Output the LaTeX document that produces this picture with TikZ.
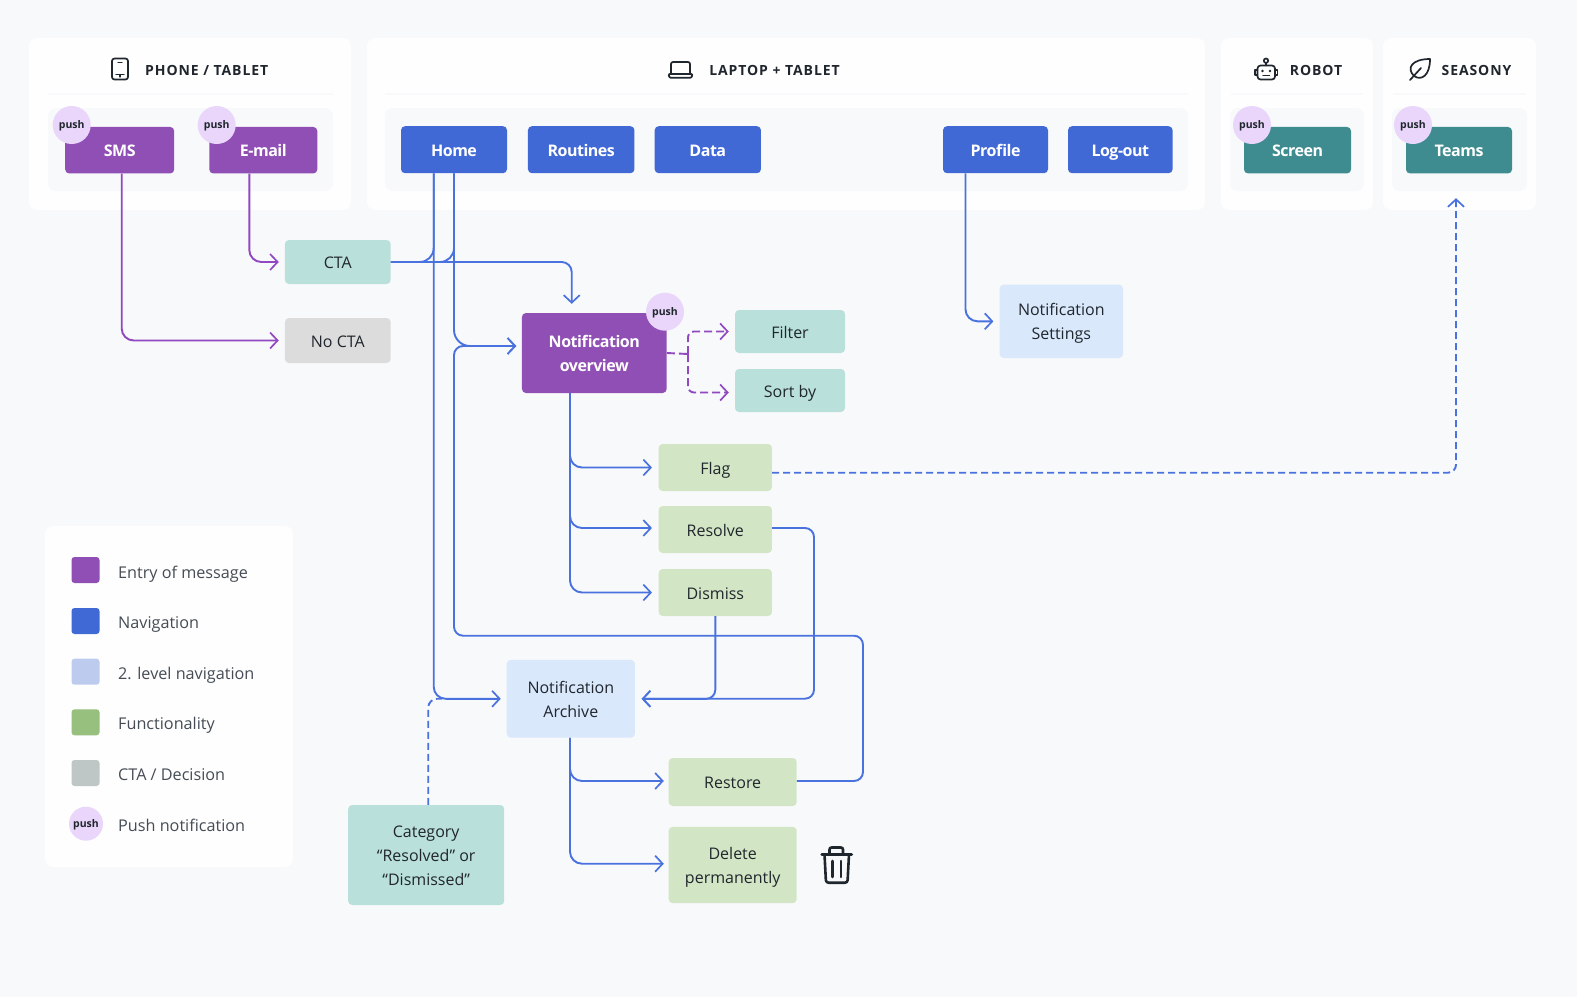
\documentclass[tikz,border=0pt]{standalone}
\usepackage{fontspec}
\setmainfont{Open Sans}
\newfontfamily\headfont[LetterSpace=6.5]{Open Sans}
\newfontfamily\whitefont[LetterSpace=-3]{Open Sans}
\usetikzlibrary{arrows.meta}
\definecolor{pagebg}{HTML}{F8F9FB}
\definecolor{panelbg}{HTML}{FEFEFE}
\definecolor{purplebox}{HTML}{8F4FB5}
\definecolor{bluebox}{HTML}{4169D6}
\definecolor{tealbox}{HTML}{3F8C90}
\definecolor{mintbox}{HTML}{BAE0DB}
\definecolor{greybox}{HTML}{DCDCDC}
\definecolor{skybox}{HTML}{D9E8FB}
\definecolor{greenbox}{HTML}{D2E6C5}
\definecolor{pushbg}{HTML}{E9D6FA}
\definecolor{keysky}{HTML}{BCCBEE}
\definecolor{keygreen}{HTML}{97BF7E}
\definecolor{keygrey}{HTML}{BFC6C6}
\definecolor{linkblue}{HTML}{4A72DE}
\definecolor{linkpurple}{HTML}{9049C0}
\definecolor{inkdark}{HTML}{20262D}
\definecolor{inkgrey}{HTML}{454C55}
\def\boxstrut{\rule[-5.5pt]{0pt}{24pt}}
\tikzset{
	panel/.style={fill=panelbg, rounded corners=8pt, inner sep=0pt},
	inner/.style={fill=pagebg, rounded corners=8pt, inner sep=0pt},
	rule/.style={pagebg, line width=1.2pt},
	head/.style={text=inkdark, font=\fontsize{14}{16}\selectfont\headfont\bfseries},
	box/.style={rounded corners=4pt, inner sep=0pt, align=center, text=inkdark, font=\fontsize{16}{24}\selectfont, execute at begin node=\boxstrut, execute at end node=\boxstrut},
	solid box/.style={box, text=white, font=\fontsize{16}{24}\selectfont\whitefont\bfseries},
	entry/.style={solid box, fill=purplebox},
	nav/.style={solid box, fill=bluebox},
	robo/.style={solid box, fill=tealbox},
	mint/.style={box, fill=mintbox},
	grey/.style={box, fill=greybox},
	sky/.style={box, fill=skybox},
	func/.style={box, fill=greenbox},
	push/.style={circle, fill=pushbg, inner sep=0pt, minimum size=38pt, text=inkdark, font=\fontsize{10.5}{12}\selectfont\bfseries, execute at begin node={\rule[-3.5pt]{0pt}{14pt}}},
	swatch/.style={rounded corners=3pt, minimum width=28pt, minimum height=26pt, inner sep=0pt},
	legend/.style={anchor=west, inner sep=0pt, text=inkgrey, font=\fontsize{16.2}{20}\selectfont, execute at begin node=\boxstrut},
	link/.style={line width=1.9pt, rounded corners=12pt, -{Straight Barb[length=7.5pt,width=16pt,line width=1.7pt]}},
	bluelink/.style={link, linkblue},
	purplelink/.style={link, linkpurple},
	icon/.style={inkdark, line width=1.7pt, line cap=round, line join=round},
}
\begin{document}
\begin{tikzpicture}[x=1pt,y=-1pt]
	\fill[pagebg] (0,0) rectangle (1577,997);
	\useasboundingbox (0,0) rectangle (1577,997);

	% panels along the top
	\node[panel, minimum width=322pt, minimum height=172pt] (phonepanel) at (190,124) {};
	\node[panel, minimum width=838pt, minimum height=172pt] (laptoppanel) at (786,124) {};
	\node[panel, minimum width=152pt, minimum height=172pt] (robotpanel) at (1297,124) {};
	\node[panel, minimum width=153pt, minimum height=172pt] (seasonypanel) at (1459.5,124) {};

	\draw[rule] (48,94) -- (333,94);
	\draw[rule] (385,94) -- (1188,94);
	\draw[rule] (1231,94) -- (1363,94);
	\draw[rule] (1393,94) -- (1526,94);

	\node[inner, minimum width=285pt, minimum height=83pt] (phoneinner) at (190.5,149.5) {};
	\node[inner, minimum width=803pt, minimum height=83pt] (laptopinner) at (786.5,149.5) {};
	\node[inner, minimum width=134pt, minimum height=83pt] (robotinner) at (1297,149.5) {};
	\node[inner, minimum width=135pt, minimum height=83pt] (seasonyinner) at (1459.5,149.5) {};

	\node[head] (phonehead) at (206.7,70) {PHONE / TABLET};
	\node[head] (laptophead) at (774.5,70) {LAPTOP + TABLET};
	\node[head] (robothead) at (1316,70) {ROBOT};
	\node[head] (seasonyhead) at (1476.5,70) {SEASONY};

	% header icons
	\draw[icon, rounded corners=2.5pt] (112,58.5) rectangle (128,79.5);
	\draw[icon, line width=1.2pt] (118,62.5) -- (122,62.5) (116,74.5) -- (124,74.5) (120,74.5) -- (120,77);
	\draw[icon, rounded corners=2pt] (671,74) -- (671,62) -- (690,62) -- (690,74);
	\draw[icon, rounded corners=1pt] (668.5,74) -- (692.5,74) -- (691.5,77.7) -- (669.5,77.7) -- cycle;
	\draw[icon, rounded corners=3pt] (1257.5,65.5) rectangle (1275,79.5);
	\draw[icon] (1266,65.5) -- (1266,63);
	\draw[icon] (1266,60.7) circle (2.2pt);
	\draw[icon] (1257.5,70) -- (1255,70) -- (1255,75) -- (1257.5,75);
	\draw[icon] (1275,70) -- (1277.5,70) -- (1277.5,75) -- (1275,75);
	\fill[inkdark] (1262.5,71) circle (1.4pt) (1270,71) circle (1.4pt);
	\draw[icon, line width=1.2pt] (1263,75.5) -- (1269.5,75.5);
	\draw[icon] (1410,80) -- (1421,68);
	\draw[icon] (1414,76) .. controls (1406,68) and (1412,59) .. (1430,59) .. controls (1430,76) and (1421,81) .. (1414,76) -- cycle;

	% top row boxes
	\node[entry, minimum width=109pt, minimum height=46.5pt] (sms) at (119.7,150.2) {SMS};
	\node[entry, minimum width=108pt, minimum height=46.5pt] (email) at (263.3,150.2) {E-mail};
	\node[nav, minimum width=106pt, minimum height=47pt] (home) at (454,149.7) {Home};
	\node[nav, minimum width=106.5pt, minimum height=47pt] (routines) at (581.2,149.7) {Routines};
	\node[nav, minimum width=106.3pt, minimum height=47pt] (data) at (707.8,149.7) {Data};
	\node[nav, minimum width=105pt, minimum height=47pt] (profile) at (995.5,149.7) {Profile};
	\node[nav, minimum width=104.6pt, minimum height=47pt] (logout) at (1120.3,149.7) {Log-out};
	\node[robo, minimum width=107pt, minimum height=46.5pt] (screen) at (1297.5,150.2) {Screen};
	\node[robo, minimum width=106pt, minimum height=46.5pt] (teams) at (1459,150.2) {Teams};

	% flow boxes
	\node[mint, minimum width=105.7pt, minimum height=44pt] (cta) at (337.8,262) {CTA};
	\node[grey, minimum width=105.7pt, minimum height=45pt] (nocta) at (337.8,340.5) {No CTA};
	\node[entry, minimum width=144.7pt, minimum height=80pt] (overview) at (594.3,353) {\boxstrut Notification\\overview};
	\node[mint, minimum width=110pt, minimum height=43pt] (filter) at (790,331.5) {Filter};
	\node[mint, minimum width=110pt, minimum height=43pt] (sortby) at (790,390.5) {Sort by};
	\node[func, minimum width=113.3pt, minimum height=47pt] (flag) at (715.3,467.5) {Flag};
	\node[func, minimum width=113.3pt, minimum height=47pt] (resolve) at (715.3,529.5) {Resolve};
	\node[func, minimum width=113.3pt, minimum height=47pt] (dismiss) at (715.3,592.5) {Dismiss};
	\node[sky, minimum width=123.4pt, minimum height=73.4pt] (settings) at (1061.3,321.3) {\boxstrut Notification\\Settings};
	\node[sky, minimum width=128.3pt, minimum height=77.7pt] (archive) at (570.8,698.8) {\boxstrut Notification\\Archive};
	\node[func, minimum width=128pt, minimum height=48pt] (restore) at (732.7,782) {Restore};
	\node[func, minimum width=128pt, minimum height=76.3pt] (delete) at (732.7,865) {\boxstrut Delete\\permanently};
	\node[mint, minimum width=156pt, minimum height=100pt] (category) at (426.2,855) {\boxstrut Category\\“Resolved” or\\“Dismissed”};

	% push badges
	\node[push] (smspush) at (71.7,125) {push};
	\node[push] (emailpush) at (216.7,125) {push};
	\node[push] (screenpush) at (1252,125) {push};
	\node[push] (teamspush) at (1413,125) {push};
	\node[push] (overviewpush) at (665,311.7) {push};

	% turning points
	\coordinate (resolveturn) at (814,698.7);
	\coordinate (loopright) at (863,635.7);
	\coordinate (loopleft) at (454,635.7);
	\coordinate (fork) at (688,354);
	\coordinate (categoryend) at (442,698.7);

	% purple links
	\draw[purplelink, shorten >=6pt] ([xshift=2pt]sms.south) |- (nocta.west);
	\draw[purplelink, shorten >=6pt] ([xshift=-14pt]email.south) |- (cta.west);
	\draw[purplelink, -, dashed, dash pattern=on 8pt off 4pt, rounded corners=6pt] (overview.east) -- (fork);
	\draw[purplelink, dashed, dash pattern=on 8pt off 4pt, rounded corners=6pt, shorten >=6pt] (fork) |- (filter.west);
	\draw[purplelink, dashed, dash pattern=on 8pt off 4pt, rounded corners=6pt, shorten >=6pt] (fork) |- ([yshift=-2pt]sortby.west);

	% blue links
	\draw[bluelink, -, rounded corners=14pt] (cta.east) -| ([xshift=-20.3pt]home.south);
	\draw[bluelink, -, rounded corners=14pt] (cta.east) -| (home.south);
	\draw[bluelink, rounded corners=10pt, shorten >=9pt] (cta.east) -| ([xshift=-22.6pt]overview.north);
	\draw[bluelink, shorten >=5.7pt] ([xshift=-20.3pt]home.south) |- (archive.west);
	\draw[bluelink, rounded corners=16pt, shorten >=5.5pt] (home.south) |- ([yshift=7pt]overview.west);
	\draw[bluelink, rounded corners=9pt, shorten >=5.5pt] ([yshift=1pt]restore.east) -| (loopright) -- (loopleft) |- ([yshift=7pt]overview.west);
	\draw[bluelink, shorten >=6.5pt] ([xshift=-24.3pt]overview.south) |- (flag.west);
	\draw[bluelink, shorten >=6.5pt] ([xshift=-24.3pt]overview.south) |- ([yshift=1.5pt]resolve.west);
	\draw[bluelink, shorten >=6.5pt] ([xshift=-24.3pt]overview.south) |- (dismiss.west);
	\draw[bluelink, shorten >=6pt] ([xshift=-30pt]profile.south) |- (settings.west);
	\draw[bluelink, rounded corners=9pt, shorten >=6.5pt] ([yshift=1.5pt]resolve.east) -| (resolveturn) -- (archive.east);
	\draw[bluelink, rounded corners=9pt, shorten >=6.5pt] (dismiss.south) |- (archive.east);
	\draw[bluelink, shorten >=4.7pt] ([xshift=-0.8pt]archive.south) |- ([yshift=1pt]restore.west);
	\draw[bluelink, shorten >=4.7pt] ([xshift=-0.8pt]archive.south) |- ([yshift=1.3pt]delete.west);
	\draw[bluelink, -, dashed, dash pattern=on 7pt off 4pt, rounded corners=9pt] ([xshift=2pt]category.north) |- (categoryend);
	\draw[bluelink, dashed, dash pattern=on 7pt off 4pt, rounded corners=8pt, shorten >=24.5pt] ([yshift=-5.2pt]flag.east) -| ([xshift=-3pt]teams.south);

	% bin icon
	\draw[icon, line width=2.6pt] (821.7,854.3) -- (851.7,854.3);
	\draw[icon, line width=2.6pt, rounded corners=2pt] (829.5,854) -- (829.5,847.5) -- (843,847.5) -- (843,854);
	\draw[icon, line width=2.6pt, rounded corners=2.5pt] (824.5,854.3) -- (826,882.7) -- (847.5,882.7) -- (849,854.3);
	\draw[icon, line width=2.6pt] (832.5,861) -- (832.5,877) (841,861) -- (841,877);

	% legend
	\node[panel, minimum width=248pt, minimum height=341pt] (legendpanel) at (169,696.5) {};
	\node[swatch, fill=purplebox] (swatchentry) at (85.5,570) {};
	\node[legend] (labelentry) at (118,571.5) {Entry of message};
	\node[swatch, fill=bluebox] (swatchnav) at (85.5,621) {};
	\node[legend] (labelnav) at (118,622) {Navigation};
	\node[swatch, fill=keysky] (swatchsecond) at (85.5,671.7) {};
	\node[legend] (labelsecond) at (118,672.7) {2. level navigation};
	\node[swatch, fill=keygreen] (swatchfunc) at (85.5,722.3) {};
	\node[legend] (labelfunc) at (118,723.3) {Functionality};
	\node[swatch, fill=keygrey] (swatchcta) at (85.5,773) {};
	\node[legend] (labelcta) at (118,773.8) {CTA / Decision};
	\node[push, minimum size=34pt] (swatchpush) at (86,823.7) {push};
	\node[legend] (labelpush) at (118,824.5) {Push notification};
\end{tikzpicture}
\end{document}
